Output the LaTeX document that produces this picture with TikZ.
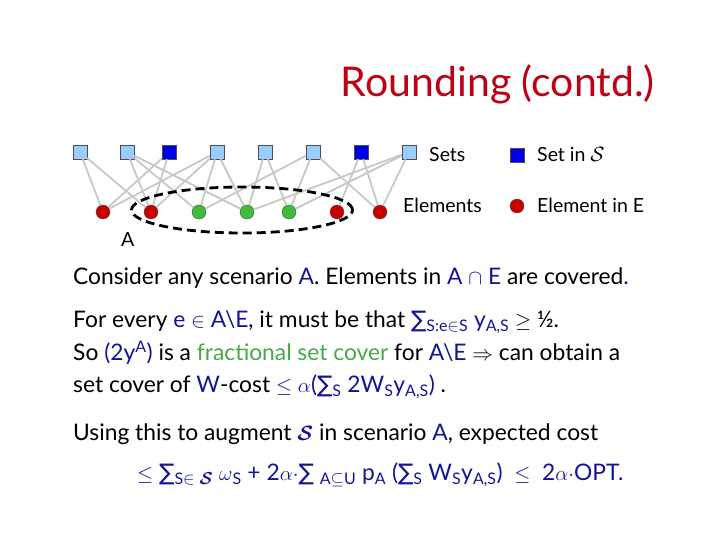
\documentclass[tikz,border=0pt]{standalone}
\usepackage{amsmath, amssymb}
\usepackage{fontspec}
\setmainfont{Lato}
\newfontfamily\symfont{DejaVu Sans}
\usepackage{xcolor}
\usepackage{tikz}
\usetikzlibrary{positioning, shapes.geometric}
\definecolor{titlered}{RGB}{190, 0, 20}
\definecolor{textblue}{RGB}{20, 20, 150}
\definecolor{covergreen}{RGB}{70, 170, 70}
\definecolor{setlight}{RGB}{153, 204, 255}
\definecolor{setdark}{RGB}{0, 0, 230}
\definecolor{elemred}{RGB}{200, 0, 0}
\definecolor{elemgreen}{RGB}{60, 190, 60}
\definecolor{linkgray}{RGB}{200, 200, 200}
\newcommand{\bsum}{{\symfont ∑}}
\newcommand{\lowsub}[1]{\textsubscript{#1}}

\begin{document}
\begin{tikzpicture}[
    x=1pt, y=-1pt,
    setbox/.style={rectangle, draw=black!70, fill=setlight, minimum size=14pt, inner sep=0pt},
    setchosen/.style={setbox, fill=setdark},
    elemdot/.style={circle, draw=black!70, fill=elemred, minimum size=14pt, inner sep=0pt},
    elemfree/.style={elemdot, fill=elemgreen},
    link/.style={draw=linkgray, line width=1.8pt},
    scenario/.style={ellipse, draw=black, line width=2.8pt, dash pattern=on 9pt off 5pt, minimum width=221pt, minimum height=46pt},
    title/.style={anchor=base east, inner sep=0pt, text=titlered, font=\fontsize{41}{46}\selectfont},
    legend/.style={anchor=base west, inner sep=0pt, font=\fontsize{19.5}{23}\selectfont},
    body/.style={anchor=base west, inner sep=0pt, font=\fontsize{22.8}{27}\selectfont}
]
\useasboundingbox (0,0) rectangle (720,540);

\node[title] (head) at (655,97) {Rounding (contd.)};

% sets
\node[setbox] (s1) at (80,152) {};
\node[setbox] (s2) at (127,152) {};
\node[setchosen] (s3) at (169,152) {};
\node[setbox] (s4) at (217,152) {};
\node[setbox] (s5) at (265,152) {};
\node[setbox] (s6) at (313,152) {};
\node[setchosen] (s7) at (361,152) {};
\node[setbox] (s8) at (409,152) {};

% elements
\node[elemdot] (e1) at (103,212) {};
\node[elemdot] (e2) at (151,212) {};
\node[elemfree] (e3) at (199,212) {};
\node[elemfree] (e4) at (247,212) {};
\node[elemfree] (e5) at (289,212) {};
\node[elemdot] (e6) at (337,212) {};
\node[elemdot] (e7) at (380,212) {};

\draw[link] (s1) -- (e1);
\draw[link] (s1) -- (e2);
\draw[link] (s2) -- (e2);
\draw[link] (s2) -- (e3);
\draw[link] (s2) -- (e4);
\draw[link] (s3) -- (e1);
\draw[link] (s3) -- (e2);
\draw[link] (s4) -- (e1);
\draw[link] (s4) -- (e2);
\draw[link] (s4) -- (e3);
\draw[link] (s4) -- (e4);
\draw[link] (s5) -- (e4);
\draw[link] (s5) -- (e5);
\draw[link] (s6) -- (e3);
\draw[link] (s6) -- (e5);
\draw[link] (s6) -- (e7);
\draw[link] (s7) -- (e6);
\draw[link] (s7) -- (e7);
\draw[link] (s8) -- (e4);
\draw[link] (s8) -- (e5);
\draw[link] (s8) -- (e7);

\node[scenario] (scen) at (242,210) {};
\node[legend] (scenlabel) at (121,246) {A};

% legend
\node[legend] (setstext) at (429,162) {Sets};
\node[setchosen] (keyset) at (517,155) {};
\node[legend] (keysetlabel) at (537,162) {Set in $\mathcal{S}$};
\node[legend] (elemtext) at (403,212) {Elements};
\node[elemdot] (keyelem) at (517,206) {};
\node[legend] (keyelemlabel) at (537,212) {Element in E};

% text
\node[body] (l1) at (73,284) {Consider any scenario \textcolor{textblue}{A}. Elements in \textcolor{textblue}{A $\cap$ E} are covered\textcolor{textblue}{.}};
\node[body] (l2) at (73,327) {For every \textcolor{textblue}{e $\in$ A\textbackslash E}, it must be that \textcolor{textblue}{\bsum\lowsub{S:e$\in$S} y\lowsub{A,S}} $\geq$ ½.};
\node[body] (l3) at (73,360) {So \textcolor{textblue}{(2y\textsuperscript{A})} is a \textcolor{covergreen}{fractional set cover} for \textcolor{textblue}{A\textbackslash E} $\Rightarrow$ can obtain a};
\node[body] (l4) at (73,392) {set cover of \textcolor{textblue}{W}-cost \textcolor{textblue}{$\leq$ $\alpha$(\bsum\lowsub{S} 2W\lowsub{S}y\lowsub{A,S})} .};
\node[body] (l5) at (73,440) {Using this to augment \textcolor{textblue}{$\boldsymbol{\mathcal{S}}$} in scenario \textcolor{textblue}{A}, expected cost};
\node[body, text=textblue] (l6) at (137,480) {$\leq$ \bsum\lowsub{S$\in\boldsymbol{\mathcal{S}}$} $\omega$\lowsub{S} + 2$\alpha\cdot$\bsum\ \lowsub{A$\subseteq$U} p\lowsub{A} (\bsum\lowsub{S} W\lowsub{S}y\lowsub{A,S}) \ $\leq$ \ 2$\alpha\cdot$OPT.};

\end{tikzpicture}
\end{document}
